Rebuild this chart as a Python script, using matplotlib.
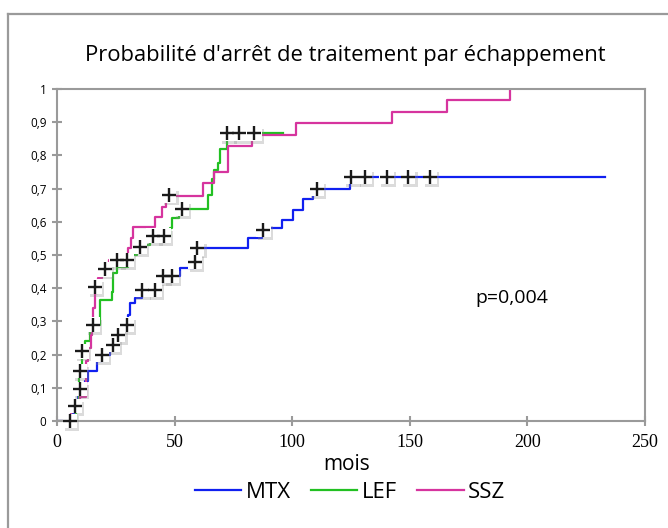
import matplotlib
matplotlib.use("Agg")
import matplotlib.pyplot as plt
import matplotlib.patheffects as pe
from matplotlib.lines import Line2D
from matplotlib.ticker import FuncFormatter

# --- data: months vs cumulative probability ---
mtx_t = [0, 6, 7.5, 9, 12, 13.3, 17, 19, 22.5, 24, 26, 28, 30.3, 31.2, 33, 36, 44, 45,
         52.3, 58.3, 59.6, 81.3, 87, 95.5, 100.4, 104.7, 109, 124.5, 233]
mtx_p = [0, 0.02, 0.045, 0.096, 0.12, 0.15, 0.18, 0.2, 0.215, 0.23, 0.26, 0.29, 0.32, 0.355, 0.37, 0.395, 0.42, 0.437,
         0.46, 0.48, 0.52, 0.55, 0.58, 0.605, 0.636, 0.67, 0.7, 0.735, 0.735]

lef_t = [0, 8, 9.5, 10.5, 12, 14, 18.3, 23.2, 24, 25.4, 30, 31.5, 34, 37, 39.5, 48, 48.7,
         52, 64.2, 65.7, 66.7, 68.6, 69.3, 72.4, 96]
lef_p = [0, 0.05, 0.15, 0.21, 0.24, 0.29, 0.364, 0.39, 0.445, 0.465, 0.48, 0.5, 0.51, 0.53, 0.555, 0.58, 0.61,
         0.638, 0.68, 0.728, 0.756, 0.776, 0.82, 0.866, 0.866]

ssz_t = [0, 6, 9.8, 12.3, 12.5, 13, 14.5, 15, 15.5, 16, 17.5, 19, 22, 30, 31.5, 32.3, 41.6, 44.5, 46.5,
         62, 66.7, 72.7, 82.9, 101.6, 142.3, 166, 192.5]
ssz_p = [0, 0.03, 0.073, 0.114, 0.18, 0.22, 0.26, 0.3, 0.34, 0.385, 0.43, 0.457, 0.485, 0.52, 0.55, 0.585, 0.615, 0.645, 0.678,
         0.717, 0.751, 0.828, 0.861, 0.897, 0.932, 0.967, 1.0]

# censored observations (+)
mtx_cens_t = [7.6, 9.8, 19, 23.8, 26, 29.6, 36, 41.6, 45, 48.7, 58.6, 59.6, 87.7, 110.4,
              125.2, 130.9, 140.1, 149.3, 158.5]
mtx_cens_p = [0.045, 0.096, 0.2, 0.229, 0.26, 0.29, 0.395, 0.395, 0.437, 0.437, 0.48, 0.52, 0.575, 0.7,
              0.735, 0.735, 0.735, 0.735, 0.735]
lef_cens_t = [9.8, 10.6, 15.3, 35.3, 41, 45.5, 53, 72.4, 77.5, 83.9]
lef_cens_p = [0.15, 0.21, 0.29, 0.525, 0.558, 0.558, 0.64, 0.866, 0.866, 0.866]
ssz_cens_t = [5.5, 16.2, 20.4, 25.3, 29.6, 47.7]
ssz_cens_p = [0.0, 0.405, 0.457, 0.485, 0.485, 0.68]

series = [
    ("MTX", mtx_t, mtx_p, mtx_cens_t, mtx_cens_p, "#1020f0"),
    ("LEF", lef_t, lef_p, lef_cens_t, lef_cens_p, "#22c022"),
    ("SSZ", ssz_t, ssz_p, ssz_cens_t, ssz_cens_p, "#d6349e"),
]

SANS = "Open Sans"

fig = plt.figure(figsize=(6.68, 5.28), dpi=100)
ax = fig.add_axes([57 / 668, 1 - 421 / 528, (645 - 57) / 668, (421 - 89) / 528])

# outer chart frame (only top and left edges fall inside the image)
frame_kw = dict(color="#9a9a9a", lw=1.6, transform=fig.transFigure)
fig.add_artist(Line2D([8 / 668, 1.0], [1 - 14 / 528, 1 - 14 / 528], **frame_kw))
fig.add_artist(Line2D([8 / 668, 8 / 668], [0, 1 - 14 / 528], **frame_kw))

handles = []
for name, t, p, ct, cp, col in series:
    h, = ax.step(t, p, where="post", color=col, lw=1.6, zorder=2, label=name)
    handles.append(h)

# censor marks: white box with soft shadow, then black cross
shadow = [pe.SimplePatchShadow(offset=(1.5, -2), shadow_rgbFace="#8a8a8a", alpha=0.3), pe.Normal()]
for name, t, p, ct, cp, col in series:
    ax.plot(ct, cp, ls="none", marker="s", ms=10.5, mfc="white", mec="none", zorder=3,
            clip_on=False, path_effects=shadow)
for name, t, p, ct, cp, col in series:
    ax.plot(ct, cp, ls="none", marker="+", ms=9.5, mew=1.7, color="#1a1a1a", zorder=4, clip_on=False)

ax.set_xlim(0, 250)
ax.set_ylim(0, 1)
ax.set_xticks(range(0, 251, 50))
ax.set_yticks([i / 10 for i in range(11)])
ax.yaxis.set_major_formatter(FuncFormatter(
    lambda v, pos: "0" if v == 0 else ("1" if abs(v - 1) < 1e-9 else f"{v:.1f}".replace(".", ","))))

for s in ax.spines.values():
    s.set_color("#9a9a9a")
    s.set_linewidth(1.5)
ax.tick_params(direction="inout", length=7, width=1.5, color="#9a9a9a")
ax.tick_params(axis="x", pad=6)
ax.tick_params(axis="y", pad=4)
for lab in ax.get_xticklabels():
    lab.set_fontfamily("Liberation Serif")
    lab.set_fontsize(13)
for lab in ax.get_yticklabels():
    lab.set_fontfamily(SANS)
    lab.set_fontsize(8.5)

fig.text(345 / 668, 1 - 55 / 528, "Probabilité d'arrêt de traitement par échappement",
         ha="center", va="center", fontsize=15.8, family=SANS)
fig.text(347 / 668, 1 - 465 / 528, "mois", ha="center", va="center", fontsize=15, family=SANS)
ax.text(512 / 668, 1 - 298 / 528, "p=0,004", transform=fig.transFigure,
        ha="center", va="center", fontsize=14, family=SANS)

fig.legend(handles=handles, loc="center", bbox_to_anchor=(350 / 668, 1 - 492 / 528),
           ncol=3, frameon=False, prop={"family": SANS, "size": 16},
           handlelength=2.1, handletextpad=0.2, columnspacing=0.9)

fig.savefig("out.png", dpi=100)
